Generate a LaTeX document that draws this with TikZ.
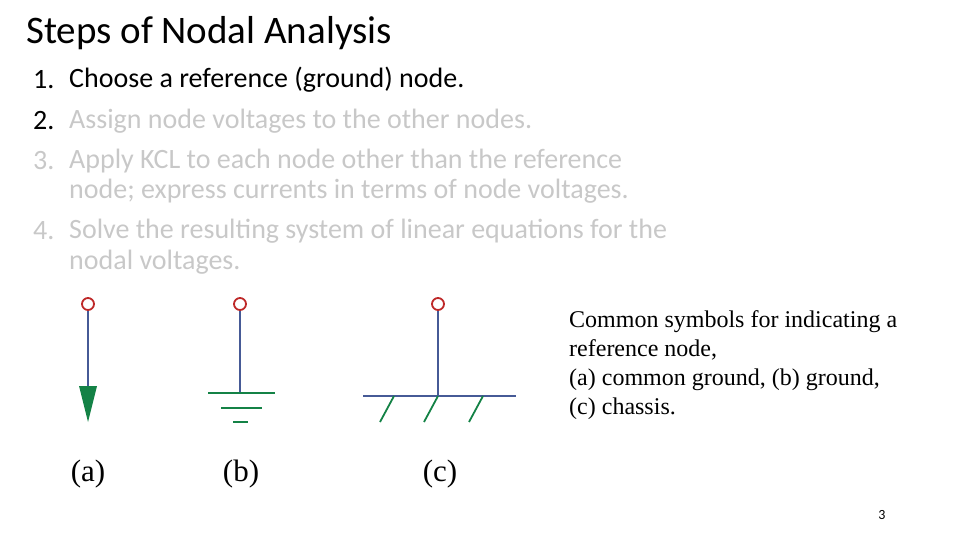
\documentclass[tikz,border=0pt]{standalone}
\usepackage{fontspec}
\setmainfont{Carlito}
\newfontfamily\tms{Liberation Serif}
\definecolor{wire}{RGB}{70,90,150}
\definecolor{gnd}{RGB}{20,130,70}
\definecolor{term}{RGB}{190,40,40}
\definecolor{dim}{RGB}{200,200,200}
\begin{document}
\begin{tikzpicture}[x=1pt,y=-1pt,
  wireline/.style={wire,line width=1.8pt},
  gndline/.style={gnd,line width=1.8pt},
  termc/.style={circle,draw=term,line width=1.8pt,minimum size=12pt,inner sep=0pt,fill=white},
  item/.style={anchor=west,inner sep=0pt,font=\fontsize{28}{34}\selectfont},
  lbl/.style={font=\tms\fontsize{31}{36}\selectfont,inner sep=0pt}]
\useasboundingbox (0,0) rectangle (960,540);
\node[anchor=west,inner sep=0pt,font=\fontsize{39}{46}\selectfont] (title) at (26,33) {Steps of Nodal Analysis};
\node[item] (n1) at (33,80) {1.};
\node[item] (t1) at (69,80) {Choose a reference (ground) node.};
\node[item] (n2) at (33,121) {2.};
\node[item,dim] (t2) at (69,121) {Assign node voltages to the other nodes.};
\node[item,dim] (n3) at (33,161) {3.};
\node[item,dim] (t3) at (69,161) {Apply KCL to each node other than the reference};
\node[item,dim] (t3b) at (69,191) {node; express currents in terms of node voltages.};
\node[item,dim] (n4) at (33,231) {4.};
\node[item,dim] (t4) at (69,231) {Solve the resulting system of linear equations for the};
\node[item,dim] (t4b) at (69,262) {nodal voltages.};
% (a)
\coordinate (a1) at (88,386);
\draw[wireline] (88,304) -- (a1);
\fill[gnd] (79,386) -- (97,386) -- (88,422) -- cycle;
\node[termc] (ta) at (88,304) {};
% (b)
\coordinate (b1) at (240,393);
\draw[wireline] (240,304) -- (b1);
\draw[gndline] (208,393) -- (275,393);
\draw[gndline] (221,408) -- (262,408);
\draw[gndline] (233,422) -- (248,422);
\node[termc] (tb) at (240,304) {};
% (c)
\coordinate (c1) at (438,396);
\draw[wireline] (438,304) -- (c1);
\draw[wireline] (363,396) -- (516,396);
\draw[gndline] (394,396) -- (380,422);
\draw[gndline] (438,396) -- (424,422);
\draw[gndline] (483,396) -- (469,422);
\node[termc] (tc) at (438,304) {};
\node[lbl] (la) at (88,474) {(a)};
\node[lbl] (lb) at (241,474) {(b)};
\node[lbl] (lc) at (440,474) {(c)};
\node[anchor=north west,inner sep=0pt,align=left,font=\tms\fontsize{24}{29}\selectfont] (cap) at (569,310) {Common symbols for indicating a\\reference node,\\(a) common ground, (b) ground,\\(c) chassis.};
\node[inner sep=0pt,font=\fontsize{14}{16}\selectfont] (pg) at (882,515) {3};
\end{tikzpicture}
\end{document}
